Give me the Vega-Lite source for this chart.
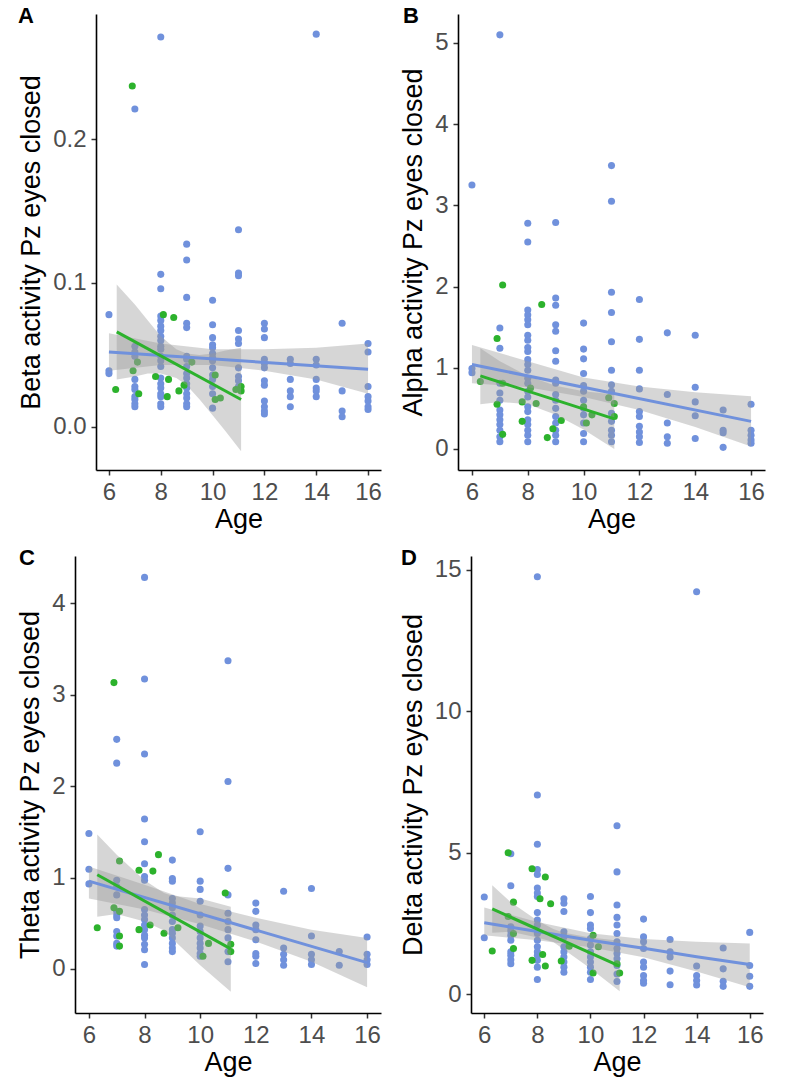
{
"$schema": "https://vega.github.io/schema/vega-lite/v6.json",
"padding": {"left": 16, "top": 5, "right": 5, "bottom": 5},
"background": "white",
"config": {
  "font": "Liberation Sans",
  "view": {"stroke": null},
  "axis": {"grid": false, "domainColor": "black", "domainWidth": 1.6, "tickColor": "#333333", "tickWidth": 1.5, "tickSize": 5, "labelFont": "Liberation Sans", "labelFontSize": 24, "labelColor": "#4D4D4D", "labelPadding": 5, "labelFlush": false, "labelOverlap": false, "titleFont": "Liberation Sans", "titleFontSize": 27, "titleFontWeight": "normal", "titleColor": "black"},
  "axisX": {"titlePadding": 2},
  "axisY": {"titlePadding": 7},
  "title": {"font": "Liberation Sans", "fontSize": 22, "fontWeight": "bold", "color": "black", "anchor": "start", "frame": "group", "offset": 0, "baseline": "alphabetic"}
},
"datasets": {
"pts": [
{"p":"A","g":"b","age":6,"v":0.078},{"p":"A","g":"b","age":6,"v":0.039},{"p":"A","g":"b","age":6,"v":0.037},
{"p":"A","g":"b","age":7,"v":0.221},{"p":"A","g":"b","age":7,"v":0.056},{"p":"A","g":"b","age":7,"v":0.052},{"p":"A","g":"b","age":7,"v":0.049},{"p":"A","g":"b","age":7,"v":0.033},{"p":"A","g":"b","age":7,"v":0.028},{"p":"A","g":"b","age":7,"v":0.026},{"p":"A","g":"b","age":7,"v":0.021},{"p":"A","g":"b","age":7,"v":0.019},{"p":"A","g":"b","age":7,"v":0.016},{"p":"A","g":"b","age":7,"v":0.014},
{"p":"A","g":"b","age":8,"v":0.271},{"p":"A","g":"b","age":8,"v":0.106},{"p":"A","g":"b","age":8,"v":0.096},{"p":"A","g":"b","age":8,"v":0.077},{"p":"A","g":"b","age":8,"v":0.074},{"p":"A","g":"b","age":8,"v":0.070},{"p":"A","g":"b","age":8,"v":0.067},{"p":"A","g":"b","age":8,"v":0.063},{"p":"A","g":"b","age":8,"v":0.060},{"p":"A","g":"b","age":8,"v":0.056},{"p":"A","g":"b","age":8,"v":0.054},{"p":"A","g":"b","age":8,"v":0.049},{"p":"A","g":"b","age":8,"v":0.046},{"p":"A","g":"b","age":8,"v":0.042},{"p":"A","g":"b","age":8,"v":0.034},{"p":"A","g":"b","age":8,"v":0.030},{"p":"A","g":"b","age":8,"v":0.027},{"p":"A","g":"b","age":8,"v":0.023},{"p":"A","g":"b","age":8,"v":0.021},{"p":"A","g":"b","age":8,"v":0.016},{"p":"A","g":"b","age":8,"v":0.014},
{"p":"A","g":"b","age":9,"v":0.127},{"p":"A","g":"b","age":9,"v":0.116},{"p":"A","g":"b","age":9,"v":0.090},{"p":"A","g":"b","age":9,"v":0.072},{"p":"A","g":"b","age":9,"v":0.069},{"p":"A","g":"b","age":9,"v":0.049},{"p":"A","g":"b","age":9,"v":0.047},{"p":"A","g":"b","age":9,"v":0.042},{"p":"A","g":"b","age":9,"v":0.037},{"p":"A","g":"b","age":9,"v":0.034},{"p":"A","g":"b","age":9,"v":0.030},{"p":"A","g":"b","age":9,"v":0.027},{"p":"A","g":"b","age":9,"v":0.023},{"p":"A","g":"b","age":9,"v":0.020},{"p":"A","g":"b","age":9,"v":0.016},{"p":"A","g":"b","age":9,"v":0.014},
{"p":"A","g":"b","age":10,"v":0.088},{"p":"A","g":"b","age":10,"v":0.071},{"p":"A","g":"b","age":10,"v":0.062},{"p":"A","g":"b","age":10,"v":0.057},{"p":"A","g":"b","age":10,"v":0.055},{"p":"A","g":"b","age":10,"v":0.051},{"p":"A","g":"b","age":10,"v":0.048},{"p":"A","g":"b","age":10,"v":0.046},{"p":"A","g":"b","age":10,"v":0.041},{"p":"A","g":"b","age":10,"v":0.036},{"p":"A","g":"b","age":10,"v":0.033},{"p":"A","g":"b","age":10,"v":0.028},{"p":"A","g":"b","age":10,"v":0.023},{"p":"A","g":"b","age":10,"v":0.013},
{"p":"A","g":"b","age":11,"v":0.137},{"p":"A","g":"b","age":11,"v":0.107},{"p":"A","g":"b","age":11,"v":0.105},{"p":"A","g":"b","age":11,"v":0.067},{"p":"A","g":"b","age":11,"v":0.061},{"p":"A","g":"b","age":11,"v":0.058},{"p":"A","g":"b","age":11,"v":0.041},{"p":"A","g":"b","age":11,"v":0.035},{"p":"A","g":"b","age":11,"v":0.032},{"p":"A","g":"b","age":11,"v":0.028},
{"p":"A","g":"b","age":12,"v":0.072},{"p":"A","g":"b","age":12,"v":0.068},{"p":"A","g":"b","age":12,"v":0.062},{"p":"A","g":"b","age":12,"v":0.047},{"p":"A","g":"b","age":12,"v":0.044},{"p":"A","g":"b","age":12,"v":0.041},{"p":"A","g":"b","age":12,"v":0.032},{"p":"A","g":"b","age":12,"v":0.029},{"p":"A","g":"b","age":12,"v":0.018},{"p":"A","g":"b","age":12,"v":0.014},{"p":"A","g":"b","age":12,"v":0.011},{"p":"A","g":"b","age":12,"v":0.009},
{"p":"A","g":"b","age":13,"v":0.047},{"p":"A","g":"b","age":13,"v":0.044},{"p":"A","g":"b","age":13,"v":0.033},{"p":"A","g":"b","age":13,"v":0.025},{"p":"A","g":"b","age":13,"v":0.021},{"p":"A","g":"b","age":13,"v":0.014},
{"p":"A","g":"b","age":14,"v":0.273},{"p":"A","g":"b","age":14,"v":0.047},{"p":"A","g":"b","age":14,"v":0.043},{"p":"A","g":"b","age":14,"v":0.033},{"p":"A","g":"b","age":14,"v":0.027},{"p":"A","g":"b","age":14,"v":0.025},{"p":"A","g":"b","age":14,"v":0.021},
{"p":"A","g":"b","age":15,"v":0.072},{"p":"A","g":"b","age":15,"v":0.025},{"p":"A","g":"b","age":15,"v":0.011},{"p":"A","g":"b","age":15,"v":0.007},
{"p":"A","g":"b","age":16,"v":0.058},{"p":"A","g":"b","age":16,"v":0.052},{"p":"A","g":"b","age":16,"v":0.028},{"p":"A","g":"b","age":16,"v":0.021},{"p":"A","g":"b","age":16,"v":0.018},{"p":"A","g":"b","age":16,"v":0.014},{"p":"A","g":"b","age":16,"v":0.012},
{"p":"A","g":"g","age":6.9,"v":0.237},{"p":"A","g":"g","age":6.93,"v":0.039},{"p":"A","g":"g","age":6.26,"v":0.026},{"p":"A","g":"g","age":7.15,"v":0.023},{"p":"A","g":"g","age":7.1,"v":0.045},{"p":"A","g":"g","age":8.1,"v":0.078},{"p":"A","g":"g","age":8.5,"v":0.076},{"p":"A","g":"g","age":7.8,"v":0.035},{"p":"A","g":"g","age":8.25,"v":0.021},{"p":"A","g":"g","age":8.3,"v":0.033},{"p":"A","g":"g","age":8.7,"v":0.025},{"p":"A","g":"g","age":8.9,"v":0.029},{"p":"A","g":"g","age":9.2,"v":0.045},{"p":"A","g":"g","age":10.1,"v":0.036},{"p":"A","g":"g","age":10.1,"v":0.019},{"p":"A","g":"g","age":10.3,"v":0.020},{"p":"A","g":"g","age":11.1,"v":0.028},{"p":"A","g":"g","age":11.1,"v":0.025},{"p":"A","g":"g","age":10.9,"v":0.026},

{"p":"B","g":"b","age":6,"v":3.25},{"p":"B","g":"b","age":6,"v":0.99},{"p":"B","g":"b","age":6,"v":0.94},
{"p":"B","g":"b","age":7,"v":5.10},{"p":"B","g":"b","age":7,"v":1.49},{"p":"B","g":"b","age":7,"v":1.24},{"p":"B","g":"b","age":7,"v":0.81},{"p":"B","g":"b","age":7,"v":0.69},{"p":"B","g":"b","age":7,"v":0.60},{"p":"B","g":"b","age":7,"v":0.48},{"p":"B","g":"b","age":7,"v":0.42},{"p":"B","g":"b","age":7,"v":0.36},{"p":"B","g":"b","age":7,"v":0.30},{"p":"B","g":"b","age":7,"v":0.23},{"p":"B","g":"b","age":7,"v":0.15},{"p":"B","g":"b","age":7,"v":0.09},
{"p":"B","g":"b","age":8,"v":2.78},{"p":"B","g":"b","age":8,"v":2.55},{"p":"B","g":"b","age":8,"v":1.71},{"p":"B","g":"b","age":8,"v":1.65},{"p":"B","g":"b","age":8,"v":1.59},{"p":"B","g":"b","age":8,"v":1.53},{"p":"B","g":"b","age":8,"v":1.40},{"p":"B","g":"b","age":8,"v":1.34},{"p":"B","g":"b","age":8,"v":1.25},{"p":"B","g":"b","age":8,"v":1.20},{"p":"B","g":"b","age":8,"v":1.10},{"p":"B","g":"b","age":8,"v":1.04},{"p":"B","g":"b","age":8,"v":0.97},{"p":"B","g":"b","age":8,"v":0.87},{"p":"B","g":"b","age":8,"v":0.81},{"p":"B","g":"b","age":8,"v":0.71},{"p":"B","g":"b","age":8,"v":0.64},{"p":"B","g":"b","age":8,"v":0.52},{"p":"B","g":"b","age":8,"v":0.46},{"p":"B","g":"b","age":8,"v":0.36},{"p":"B","g":"b","age":8,"v":0.30},{"p":"B","g":"b","age":8,"v":0.23},{"p":"B","g":"b","age":8,"v":0.17},{"p":"B","g":"b","age":8,"v":0.09},
{"p":"B","g":"b","age":9,"v":2.79},{"p":"B","g":"b","age":9,"v":1.86},{"p":"B","g":"b","age":9,"v":1.77},{"p":"B","g":"b","age":9,"v":1.53},{"p":"B","g":"b","age":9,"v":1.45},{"p":"B","g":"b","age":9,"v":1.21},{"p":"B","g":"b","age":9,"v":1.08},{"p":"B","g":"b","age":9,"v":0.85},{"p":"B","g":"b","age":9,"v":0.81},{"p":"B","g":"b","age":9,"v":0.67},{"p":"B","g":"b","age":9,"v":0.60},{"p":"B","g":"b","age":9,"v":0.50},{"p":"B","g":"b","age":9,"v":0.40},{"p":"B","g":"b","age":9,"v":0.32},{"p":"B","g":"b","age":9,"v":0.23},{"p":"B","g":"b","age":9,"v":0.17},{"p":"B","g":"b","age":9,"v":0.09},
{"p":"B","g":"b","age":10,"v":1.55},{"p":"B","g":"b","age":10,"v":1.23},{"p":"B","g":"b","age":10,"v":1.11},{"p":"B","g":"b","age":10,"v":0.93},{"p":"B","g":"b","age":10,"v":0.78},{"p":"B","g":"b","age":10,"v":0.71},{"p":"B","g":"b","age":10,"v":0.60},{"p":"B","g":"b","age":10,"v":0.50},{"p":"B","g":"b","age":10,"v":0.42},{"p":"B","g":"b","age":10,"v":0.32},{"p":"B","g":"b","age":10,"v":0.19},{"p":"B","g":"b","age":10,"v":0.09},
{"p":"B","g":"b","age":11,"v":3.49},{"p":"B","g":"b","age":11,"v":3.05},{"p":"B","g":"b","age":11,"v":1.93},{"p":"B","g":"b","age":11,"v":1.68},{"p":"B","g":"b","age":11,"v":1.32},{"p":"B","g":"b","age":11,"v":0.97},{"p":"B","g":"b","age":11,"v":0.79},{"p":"B","g":"b","age":11,"v":0.71},{"p":"B","g":"b","age":11,"v":0.44},{"p":"B","g":"b","age":11,"v":0.34},{"p":"B","g":"b","age":11,"v":0.23},{"p":"B","g":"b","age":11,"v":0.17},{"p":"B","g":"b","age":11,"v":0.09},
{"p":"B","g":"b","age":12,"v":1.84},{"p":"B","g":"b","age":12,"v":1.35},{"p":"B","g":"b","age":12,"v":0.97},{"p":"B","g":"b","age":12,"v":0.74},{"p":"B","g":"b","age":12,"v":0.46},{"p":"B","g":"b","age":12,"v":0.40},{"p":"B","g":"b","age":12,"v":0.28},{"p":"B","g":"b","age":12,"v":0.21},{"p":"B","g":"b","age":12,"v":0.15},{"p":"B","g":"b","age":12,"v":0.08},
{"p":"B","g":"b","age":13,"v":1.43},{"p":"B","g":"b","age":13,"v":0.67},{"p":"B","g":"b","age":13,"v":0.32},{"p":"B","g":"b","age":13,"v":0.15},{"p":"B","g":"b","age":13,"v":0.07},
{"p":"B","g":"b","age":14,"v":1.40},{"p":"B","g":"b","age":14,"v":0.76},{"p":"B","g":"b","age":14,"v":0.58},{"p":"B","g":"b","age":14,"v":0.41},{"p":"B","g":"b","age":14,"v":0.13},
{"p":"B","g":"b","age":15,"v":0.48},{"p":"B","g":"b","age":15,"v":0.23},{"p":"B","g":"b","age":15,"v":0.20},{"p":"B","g":"b","age":15,"v":0.02},
{"p":"B","g":"b","age":16,"v":0.55},{"p":"B","g":"b","age":16,"v":0.23},{"p":"B","g":"b","age":16,"v":0.17},{"p":"B","g":"b","age":16,"v":0.11},{"p":"B","g":"b","age":16,"v":0.07},
{"p":"B","g":"g","age":7.1,"v":2.02},{"p":"B","g":"g","age":8.5,"v":1.78},{"p":"B","g":"g","age":6.9,"v":1.36},{"p":"B","g":"g","age":6.3,"v":0.83},{"p":"B","g":"g","age":7.1,"v":0.81},{"p":"B","g":"g","age":6.9,"v":0.55},{"p":"B","g":"g","age":7.1,"v":0.18},{"p":"B","g":"g","age":7.8,"v":0.34},{"p":"B","g":"g","age":7.8,"v":0.58},{"p":"B","g":"g","age":8.1,"v":0.75},{"p":"B","g":"g","age":8.3,"v":0.56},{"p":"B","g":"g","age":8.7,"v":0.14},{"p":"B","g":"g","age":8.9,"v":0.25},{"p":"B","g":"g","age":9.2,"v":0.35},{"p":"B","g":"g","age":10,"v":0.52},{"p":"B","g":"g","age":10.1,"v":0.32},{"p":"B","g":"g","age":10.3,"v":0.42},{"p":"B","g":"g","age":10.9,"v":0.63},{"p":"B","g":"g","age":11.1,"v":0.56},{"p":"B","g":"g","age":11.1,"v":0.40},

{"p":"C","g":"b","age":6,"v":1.48},{"p":"C","g":"b","age":6,"v":1.09},{"p":"C","g":"b","age":6,"v":0.93},
{"p":"C","g":"b","age":7,"v":2.51},{"p":"C","g":"b","age":7,"v":2.25},{"p":"C","g":"b","age":7,"v":0.97},{"p":"C","g":"b","age":7,"v":0.90},{"p":"C","g":"b","age":7,"v":0.81},{"p":"C","g":"b","age":7,"v":0.63},{"p":"C","g":"b","age":7,"v":0.59},{"p":"C","g":"b","age":7,"v":0.56},{"p":"C","g":"b","age":7,"v":0.41},{"p":"C","g":"b","age":7,"v":0.36},{"p":"C","g":"b","age":7,"v":0.28},{"p":"C","g":"b","age":7,"v":0.25},
{"p":"C","g":"b","age":8,"v":4.28},{"p":"C","g":"b","age":8,"v":3.17},{"p":"C","g":"b","age":8,"v":2.35},{"p":"C","g":"b","age":8,"v":1.64},{"p":"C","g":"b","age":8,"v":1.39},{"p":"C","g":"b","age":8,"v":1.15},{"p":"C","g":"b","age":8,"v":1.01},{"p":"C","g":"b","age":8,"v":0.97},{"p":"C","g":"b","age":8,"v":0.65},{"p":"C","g":"b","age":8,"v":0.59},{"p":"C","g":"b","age":8,"v":0.54},{"p":"C","g":"b","age":8,"v":0.48},{"p":"C","g":"b","age":8,"v":0.43},{"p":"C","g":"b","age":8,"v":0.37},{"p":"C","g":"b","age":8,"v":0.34},{"p":"C","g":"b","age":8,"v":0.27},{"p":"C","g":"b","age":8,"v":0.21},{"p":"C","g":"b","age":8,"v":0.05},
{"p":"C","g":"b","age":9,"v":1.19},{"p":"C","g":"b","age":9,"v":0.99},{"p":"C","g":"b","age":9,"v":0.96},{"p":"C","g":"b","age":9,"v":0.77},{"p":"C","g":"b","age":9,"v":0.72},{"p":"C","g":"b","age":9,"v":0.67},{"p":"C","g":"b","age":9,"v":0.59},{"p":"C","g":"b","age":9,"v":0.52},{"p":"C","g":"b","age":9,"v":0.43},{"p":"C","g":"b","age":9,"v":0.39},{"p":"C","g":"b","age":9,"v":0.34},{"p":"C","g":"b","age":9,"v":0.28},{"p":"C","g":"b","age":9,"v":0.23},{"p":"C","g":"b","age":9,"v":0.19},
{"p":"C","g":"b","age":10,"v":1.50},{"p":"C","g":"b","age":10,"v":0.96},{"p":"C","g":"b","age":10,"v":0.87},{"p":"C","g":"b","age":10,"v":0.74},{"p":"C","g":"b","age":10,"v":0.59},{"p":"C","g":"b","age":10,"v":0.47},{"p":"C","g":"b","age":10,"v":0.41},{"p":"C","g":"b","age":10,"v":0.34},{"p":"C","g":"b","age":10,"v":0.28},{"p":"C","g":"b","age":10,"v":0.23},{"p":"C","g":"b","age":10,"v":0.17},{"p":"C","g":"b","age":10,"v":0.14},
{"p":"C","g":"b","age":11,"v":3.37},{"p":"C","g":"b","age":11,"v":2.05},{"p":"C","g":"b","age":11,"v":1.10},{"p":"C","g":"b","age":11,"v":0.81},{"p":"C","g":"b","age":11,"v":0.61},{"p":"C","g":"b","age":11,"v":0.52},{"p":"C","g":"b","age":11,"v":0.43},{"p":"C","g":"b","age":11,"v":0.34},{"p":"C","g":"b","age":11,"v":0.19},{"p":"C","g":"b","age":11,"v":0.08},
{"p":"C","g":"b","age":12,"v":0.72},{"p":"C","g":"b","age":12,"v":0.63},{"p":"C","g":"b","age":12,"v":0.48},{"p":"C","g":"b","age":12,"v":0.43},{"p":"C","g":"b","age":12,"v":0.32},{"p":"C","g":"b","age":12,"v":0.17},{"p":"C","g":"b","age":12,"v":0.14},{"p":"C","g":"b","age":12,"v":0.06},
{"p":"C","g":"b","age":13,"v":0.85},{"p":"C","g":"b","age":13,"v":0.23},{"p":"C","g":"b","age":13,"v":0.16},{"p":"C","g":"b","age":13,"v":0.10},{"p":"C","g":"b","age":13,"v":0.04},
{"p":"C","g":"b","age":14,"v":0.88},{"p":"C","g":"b","age":14,"v":0.36},{"p":"C","g":"b","age":14,"v":0.16},{"p":"C","g":"b","age":14,"v":0.10},{"p":"C","g":"b","age":14,"v":0.05},
{"p":"C","g":"b","age":15,"v":0.19},{"p":"C","g":"b","age":15,"v":0.04},
{"p":"C","g":"b","age":16,"v":0.35},{"p":"C","g":"b","age":16,"v":0.16},{"p":"C","g":"b","age":16,"v":0.10},{"p":"C","g":"b","age":16,"v":0.05},
{"p":"C","g":"g","age":6.9,"v":3.13},{"p":"C","g":"g","age":7.1,"v":1.18},{"p":"C","g":"g","age":8.5,"v":1.25},{"p":"C","g":"g","age":7.8,"v":1.08},{"p":"C","g":"g","age":8.3,"v":1.07},{"p":"C","g":"g","age":6.9,"v":0.67},{"p":"C","g":"g","age":7.1,"v":0.63},{"p":"C","g":"g","age":6.3,"v":0.45},{"p":"C","g":"g","age":7.1,"v":0.36},{"p":"C","g":"g","age":7.1,"v":0.25},{"p":"C","g":"g","age":7.8,"v":0.43},{"p":"C","g":"g","age":8.2,"v":0.48},{"p":"C","g":"g","age":8.7,"v":0.39},{"p":"C","g":"g","age":9.2,"v":0.45},{"p":"C","g":"g","age":10.3,"v":0.28},{"p":"C","g":"g","age":10.1,"v":0.14},{"p":"C","g":"g","age":10.9,"v":0.83},{"p":"C","g":"g","age":11.1,"v":0.27},{"p":"C","g":"g","age":11.1,"v":0.19},

{"p":"D","g":"b","age":6,"v":3.43},{"p":"D","g":"b","age":6,"v":1.99},
{"p":"D","g":"b","age":7,"v":4.96},{"p":"D","g":"b","age":7,"v":3.83},{"p":"D","g":"b","age":7,"v":2.38},{"p":"D","g":"b","age":7,"v":2.24},{"p":"D","g":"b","age":7,"v":2.08},{"p":"D","g":"b","age":7,"v":1.90},{"p":"D","g":"b","age":7,"v":1.49},{"p":"D","g":"b","age":7,"v":1.37},{"p":"D","g":"b","age":7,"v":1.21},{"p":"D","g":"b","age":7,"v":1.07},
{"p":"D","g":"b","age":8,"v":14.76},{"p":"D","g":"b","age":8,"v":7.04},{"p":"D","g":"b","age":8,"v":5.30},{"p":"D","g":"b","age":8,"v":4.40},{"p":"D","g":"b","age":8,"v":4.23},{"p":"D","g":"b","age":8,"v":3.75},{"p":"D","g":"b","age":8,"v":3.57},{"p":"D","g":"b","age":8,"v":3.45},{"p":"D","g":"b","age":8,"v":2.88},{"p":"D","g":"b","age":8,"v":2.62},{"p":"D","g":"b","age":8,"v":2.44},{"p":"D","g":"b","age":8,"v":2.14},{"p":"D","g":"b","age":8,"v":1.90},{"p":"D","g":"b","age":8,"v":1.67},{"p":"D","g":"b","age":8,"v":1.49},{"p":"D","g":"b","age":8,"v":1.37},{"p":"D","g":"b","age":8,"v":1.19},{"p":"D","g":"b","age":8,"v":0.95},{"p":"D","g":"b","age":8,"v":0.51},
{"p":"D","g":"b","age":9,"v":3.37},{"p":"D","g":"b","age":9,"v":3.21},{"p":"D","g":"b","age":9,"v":2.92},{"p":"D","g":"b","age":9,"v":2.20},{"p":"D","g":"b","age":9,"v":2.02},{"p":"D","g":"b","age":9,"v":1.67},{"p":"D","g":"b","age":9,"v":1.49},{"p":"D","g":"b","age":9,"v":1.31},{"p":"D","g":"b","age":9,"v":1.13},{"p":"D","g":"b","age":9,"v":0.95},{"p":"D","g":"b","age":9,"v":0.77},
{"p":"D","g":"b","age":10,"v":3.45},{"p":"D","g":"b","age":10,"v":2.88},{"p":"D","g":"b","age":10,"v":2.44},{"p":"D","g":"b","age":10,"v":2.32},{"p":"D","g":"b","age":10,"v":1.96},{"p":"D","g":"b","age":10,"v":1.73},{"p":"D","g":"b","age":10,"v":1.49},{"p":"D","g":"b","age":10,"v":1.31},{"p":"D","g":"b","age":10,"v":1.13},{"p":"D","g":"b","age":10,"v":0.95},{"p":"D","g":"b","age":10,"v":0.77},{"p":"D","g":"b","age":10,"v":0.51},
{"p":"D","g":"b","age":11,"v":5.95},{"p":"D","g":"b","age":11,"v":4.32},{"p":"D","g":"b","age":11,"v":3.15},{"p":"D","g":"b","age":11,"v":2.71},{"p":"D","g":"b","age":11,"v":2.44},{"p":"D","g":"b","age":11,"v":2.14},{"p":"D","g":"b","age":11,"v":1.85},{"p":"D","g":"b","age":11,"v":1.61},{"p":"D","g":"b","age":11,"v":1.43},{"p":"D","g":"b","age":11,"v":1.25},{"p":"D","g":"b","age":11,"v":1.01},{"p":"D","g":"b","age":11,"v":0.71},{"p":"D","g":"b","age":11,"v":0.44},
{"p":"D","g":"b","age":12,"v":2.65},{"p":"D","g":"b","age":12,"v":2.02},{"p":"D","g":"b","age":12,"v":1.85},{"p":"D","g":"b","age":12,"v":1.61},{"p":"D","g":"b","age":12,"v":1.13},{"p":"D","g":"b","age":12,"v":0.95},{"p":"D","g":"b","age":12,"v":0.65},{"p":"D","g":"b","age":12,"v":0.48},{"p":"D","g":"b","age":12,"v":0.38},
{"p":"D","g":"b","age":13,"v":1.93},{"p":"D","g":"b","age":13,"v":1.49},{"p":"D","g":"b","age":13,"v":1.31},{"p":"D","g":"b","age":13,"v":0.81},{"p":"D","g":"b","age":13,"v":0.33},
{"p":"D","g":"b","age":14,"v":14.23},{"p":"D","g":"b","age":14,"v":0.99},{"p":"D","g":"b","age":14,"v":0.65},{"p":"D","g":"b","age":14,"v":0.48},{"p":"D","g":"b","age":14,"v":0.32},
{"p":"D","g":"b","age":15,"v":1.63},{"p":"D","g":"b","age":15,"v":0.89},{"p":"D","g":"b","age":15,"v":0.45},{"p":"D","g":"b","age":15,"v":0.27},
{"p":"D","g":"b","age":16,"v":2.18},{"p":"D","g":"b","age":16,"v":1.01},{"p":"D","g":"b","age":16,"v":0.63},{"p":"D","g":"b","age":16,"v":0.27},
{"p":"D","g":"g","age":6.9,"v":5.0},{"p":"D","g":"g","age":7.8,"v":4.43},{"p":"D","g":"g","age":8.3,"v":4.14},{"p":"D","g":"g","age":7.1,"v":3.25},{"p":"D","g":"g","age":8.1,"v":3.37},{"p":"D","g":"g","age":8.5,"v":3.19},{"p":"D","g":"g","age":6.9,"v":2.74},{"p":"D","g":"g","age":6.3,"v":1.52},{"p":"D","g":"g","age":7.1,"v":1.61},{"p":"D","g":"g","age":7.8,"v":1.19},{"p":"D","g":"g","age":8.2,"v":1.40},{"p":"D","g":"g","age":8.3,"v":0.99},{"p":"D","g":"g","age":8.9,"v":1.17},{"p":"D","g":"g","age":9.2,"v":1.69},{"p":"D","g":"g","age":10.1,"v":2.08},{"p":"D","g":"g","age":10.3,"v":1.67},{"p":"D","g":"g","age":10.1,"v":0.74},{"p":"D","g":"g","age":11.1,"v":0.74},{"p":"D","g":"g","age":11.0,"v":1.07},{"p":"D","g":"g","age":7.1,"v":2.14}
],
"fit": [
{"p":"A","g":"b","age":6,"v":0.052},{"p":"A","g":"b","age":16,"v":0.040},
{"p":"A","g":"g","age":6.3,"v":0.066},{"p":"A","g":"g","age":11.1,"v":0.019},
{"p":"B","g":"b","age":6,"v":1.04},{"p":"B","g":"b","age":16,"v":0.34},
{"p":"B","g":"g","age":6.3,"v":0.90},{"p":"B","g":"g","age":11.1,"v":0.37},
{"p":"C","g":"b","age":6,"v":0.96},{"p":"C","g":"b","age":16,"v":0.07},
{"p":"C","g":"g","age":6.3,"v":1.03},{"p":"C","g":"g","age":11.1,"v":0.22},
{"p":"D","g":"b","age":6,"v":2.52},{"p":"D","g":"b","age":8,"v":2.21},{"p":"D","g":"b","age":10,"v":1.90},{"p":"D","g":"b","age":12,"v":1.62},{"p":"D","g":"b","age":14,"v":1.32},{"p":"D","g":"b","age":16,"v":1.04},
{"p":"D","g":"g","age":6.3,"v":3.01},{"p":"D","g":"g","age":11.1,"v":0.99}
],
"band": [
{"p":"A","g":"b","age":6,"lo":0.039,"hi":0.065},{"p":"A","g":"b","age":8,"lo":0.043,"hi":0.058},{"p":"A","g":"b","age":10,"lo":0.043,"hi":0.054},{"p":"A","g":"b","age":12,"lo":0.039,"hi":0.054},{"p":"A","g":"b","age":14,"lo":0.033,"hi":0.055},{"p":"A","g":"b","age":16,"lo":0.023,"hi":0.058},
{"p":"A","g":"g","age":6.3,"lo":0.033,"hi":0.099},{"p":"A","g":"g","age":7,"lo":0.035,"hi":0.085},{"p":"A","g":"g","age":7.5,"lo":0.037,"hi":0.074},{"p":"A","g":"g","age":8,"lo":0.037,"hi":0.063},{"p":"A","g":"g","age":8.6,"lo":0.034,"hi":0.054},{"p":"A","g":"g","age":9,"lo":0.029,"hi":0.051},{"p":"A","g":"g","age":9.5,"lo":0.019,"hi":0.050},{"p":"A","g":"g","age":10,"lo":0.008,"hi":0.051},{"p":"A","g":"g","age":10.5,"lo":-0.003,"hi":0.053},{"p":"A","g":"g","age":11.1,"lo":-0.017,"hi":0.055},
{"p":"B","g":"b","age":6,"lo":0.81,"hi":1.28},{"p":"B","g":"b","age":8,"lo":0.76,"hi":1.08},{"p":"B","g":"b","age":10,"lo":0.64,"hi":0.88},{"p":"B","g":"b","age":12,"lo":0.48,"hi":0.77},{"p":"B","g":"b","age":14,"lo":0.27,"hi":0.70},{"p":"B","g":"b","age":16,"lo":0.03,"hi":0.65},
{"p":"B","g":"g","age":6.3,"lo":0.55,"hi":1.24},{"p":"B","g":"g","age":7,"lo":0.58,"hi":1.08},{"p":"B","g":"g","age":8,"lo":0.55,"hi":0.90},{"p":"B","g":"g","age":9,"lo":0.42,"hi":0.78},{"p":"B","g":"g","age":10,"lo":0.24,"hi":0.71},{"p":"B","g":"g","age":11.1,"lo":0.0,"hi":0.67},
{"p":"C","g":"b","age":6,"lo":0.77,"hi":1.12},{"p":"C","g":"b","age":8,"lo":0.65,"hi":0.92},{"p":"C","g":"b","age":10,"lo":0.49,"hi":0.71},{"p":"C","g":"b","age":12,"lo":0.30,"hi":0.56},{"p":"C","g":"b","age":14,"lo":0.08,"hi":0.43},{"p":"C","g":"b","age":16,"lo":-0.20,"hi":0.34},
{"p":"C","g":"g","age":6.3,"lo":0.57,"hi":1.47},{"p":"C","g":"g","age":7,"lo":0.60,"hi":1.25},{"p":"C","g":"g","age":8,"lo":0.52,"hi":0.97},{"p":"C","g":"g","age":8.7,"lo":0.42,"hi":0.83},{"p":"C","g":"g","age":9,"lo":0.33,"hi":0.80},{"p":"C","g":"g","age":10,"lo":0.04,"hi":0.77},{"p":"C","g":"g","age":11.1,"lo":-0.25,"hi":0.68},
{"p":"D","g":"b","age":6,"lo":2.08,"hi":3.06},{"p":"D","g":"b","age":8,"lo":1.90,"hi":2.55},{"p":"D","g":"b","age":10,"lo":1.65,"hi":2.15},{"p":"D","g":"b","age":12,"lo":1.30,"hi":1.95},{"p":"D","g":"b","age":14,"lo":0.80,"hi":1.85},{"p":"D","g":"b","age":16,"lo":0.24,"hi":1.79},
{"p":"D","g":"g","age":6.3,"lo":2.17,"hi":3.85},{"p":"D","g":"g","age":7,"lo":2.20,"hi":3.25},{"p":"D","g":"g","age":8,"lo":2.00,"hi":2.60},{"p":"D","g":"g","age":8.6,"lo":1.84,"hi":2.30},{"p":"D","g":"g","age":9,"lo":1.57,"hi":2.17},{"p":"D","g":"g","age":10,"lo":0.90,"hi":2.00},{"p":"D","g":"g","age":11.1,"lo":0.10,"hi":1.88}
]
},
"columns": 2,
"align": {"row": "all", "column": "none"},
"spacing": {"row": 14, "column": 17},
"concat": [
{
"width": 306, "height": 456,
"title": {"text": "A", "dx": -57, "dy": 18},
"layer": [
 {"data": {"name": "pts"}, "transform": [{"filter": "datum.p === 'A'"}], "mark": {"type": "circle", "size": 50, "opacity": 1},
  "encoding": {"x": {"field": "age", "type": "quantitative", "title": "Age", "scale": {"domain": [5.5, 16.5], "nice": false, "zero": false, "rangeMin": 21}, "axis": {"values": [6, 8, 10, 12, 14, 16], "format": "d"}},
   "y": {"field": "v", "type": "quantitative", "title": "Beta activity Pz eyes closed", "scale": {"domain": [-0.030, 0.287], "nice": false, "zero": false}, "axis": {"values": [0, 0.1, 0.2], "format": ".1f", "offset": -21}},
   "color": {"field": "g", "type": "nominal", "scale": {"domain": ["b", "g"], "range": ["#7091DC", "#2CB22C"]}, "legend": null}}},
 {"data": {"name": "band"}, "transform": [{"filter": "datum.p === 'A'"}], "mark": {"type": "area", "color": "#999999", "opacity": 0.4},
  "encoding": {"x": {"field": "age", "type": "quantitative", "title": "Age"}, "y": {"field": "lo", "type": "quantitative", "title": "Beta activity Pz eyes closed"}, "y2": {"field": "hi"}, "detail": {"field": "g"}}},
 {"data": {"name": "fit"}, "transform": [{"filter": "datum.p === 'A'"}], "mark": {"type": "line", "strokeWidth": 3},
  "encoding": {"x": {"field": "age", "type": "quantitative", "title": "Age"}, "y": {"field": "v", "type": "quantitative", "title": "Beta activity Pz eyes closed"}, "color": {"field": "g", "type": "nominal", "scale": {"domain": ["b", "g"], "range": ["#6A8BD8", "#2DB52D"]}, "legend": null}}}
]
},
{
"width": 307, "height": 456,
"title": {"text": "B", "dx": -55, "dy": 18},
"layer": [
 {"data": {"name": "pts"}, "transform": [{"filter": "datum.p === 'B'"}], "mark": {"type": "circle", "size": 50, "opacity": 1},
  "encoding": {"x": {"field": "age", "type": "quantitative", "title": "Age", "scale": {"domain": [5.5, 16.5], "nice": false, "zero": false}, "axis": {"values": [6, 8, 10, 12, 14, 16], "format": "d"}},
   "y": {"field": "v", "type": "quantitative", "title": "Alpha activity Pz eyes closed", "scale": {"domain": [-0.259, 5.357], "nice": false, "zero": false}, "axis": {"values": [0, 1, 2, 3, 4, 5], "format": "d"}},
   "color": {"field": "g", "type": "nominal", "scale": {"domain": ["b", "g"], "range": ["#7091DC", "#2CB22C"]}, "legend": null}}},
 {"data": {"name": "band"}, "transform": [{"filter": "datum.p === 'B'"}], "mark": {"type": "area", "color": "#999999", "opacity": 0.4},
  "encoding": {"x": {"field": "age", "type": "quantitative", "title": "Age"}, "y": {"field": "lo", "type": "quantitative", "title": "Alpha activity Pz eyes closed"}, "y2": {"field": "hi"}, "detail": {"field": "g"}}},
 {"data": {"name": "fit"}, "transform": [{"filter": "datum.p === 'B'"}], "mark": {"type": "line", "strokeWidth": 3},
  "encoding": {"x": {"field": "age", "type": "quantitative", "title": "Age"}, "y": {"field": "v", "type": "quantitative", "title": "Alpha activity Pz eyes closed"}, "color": {"field": "g", "type": "nominal", "scale": {"domain": ["b", "g"], "range": ["#6A8BD8", "#2DB52D"]}, "legend": null}}}
]
},
{
"width": 306, "height": 457,
"title": {"text": "C", "dx": -56, "dy": 18},
"layer": [
 {"data": {"name": "pts"}, "transform": [{"filter": "datum.p === 'C'"}], "mark": {"type": "circle", "size": 50, "opacity": 1},
  "encoding": {"x": {"field": "age", "type": "quantitative", "title": "Age", "scale": {"domain": [5.5, 16.5], "nice": false, "zero": false}, "axis": {"values": [6, 8, 10, 12, 14, 16], "format": "d"}},
   "y": {"field": "v", "type": "quantitative", "title": "Theta activity Pz eyes closed", "scale": {"domain": [-0.481, 4.514], "nice": false, "zero": false}, "axis": {"values": [0, 1, 2, 3, 4], "format": "d"}},
   "color": {"field": "g", "type": "nominal", "scale": {"domain": ["b", "g"], "range": ["#7091DC", "#2CB22C"]}, "legend": null}}},
 {"data": {"name": "band"}, "transform": [{"filter": "datum.p === 'C'"}], "mark": {"type": "area", "color": "#999999", "opacity": 0.4},
  "encoding": {"x": {"field": "age", "type": "quantitative", "title": "Age"}, "y": {"field": "lo", "type": "quantitative", "title": "Theta activity Pz eyes closed"}, "y2": {"field": "hi"}, "detail": {"field": "g"}}},
 {"data": {"name": "fit"}, "transform": [{"filter": "datum.p === 'C'"}], "mark": {"type": "line", "strokeWidth": 3},
  "encoding": {"x": {"field": "age", "type": "quantitative", "title": "Age"}, "y": {"field": "v", "type": "quantitative", "title": "Theta activity Pz eyes closed"}, "color": {"field": "g", "type": "nominal", "scale": {"domain": ["b", "g"], "range": ["#6A8BD8", "#2DB52D"]}, "legend": null}}}
]
},
{
"width": 292, "height": 457,
"title": {"text": "D", "dx": -70, "dy": 18},
"layer": [
 {"data": {"name": "pts"}, "transform": [{"filter": "datum.p === 'D'"}], "mark": {"type": "circle", "size": 50, "opacity": 1},
  "encoding": {"x": {"field": "age", "type": "quantitative", "title": "Age", "scale": {"domain": [5.5, 16.5], "nice": false, "zero": false}, "axis": {"values": [6, 8, 10, 12, 14, 16], "format": "d"}},
   "y": {"field": "v", "type": "quantitative", "title": "Delta activity Pz eyes closed", "scale": {"domain": [-0.672, 15.495], "nice": false, "zero": false}, "axis": {"values": [0, 5, 10, 15], "format": "d"}},
   "color": {"field": "g", "type": "nominal", "scale": {"domain": ["b", "g"], "range": ["#7091DC", "#2CB22C"]}, "legend": null}}},
 {"data": {"name": "band"}, "transform": [{"filter": "datum.p === 'D'"}], "mark": {"type": "area", "color": "#999999", "opacity": 0.4},
  "encoding": {"x": {"field": "age", "type": "quantitative", "title": "Age"}, "y": {"field": "lo", "type": "quantitative", "title": "Delta activity Pz eyes closed"}, "y2": {"field": "hi"}, "detail": {"field": "g"}}},
 {"data": {"name": "fit"}, "transform": [{"filter": "datum.p === 'D'"}], "mark": {"type": "line", "strokeWidth": 3},
  "encoding": {"x": {"field": "age", "type": "quantitative", "title": "Age"}, "y": {"field": "v", "type": "quantitative", "title": "Delta activity Pz eyes closed"}, "color": {"field": "g", "type": "nominal", "scale": {"domain": ["b", "g"], "range": ["#6A8BD8", "#2DB52D"]}, "legend": null}}}
]
}
]
}
